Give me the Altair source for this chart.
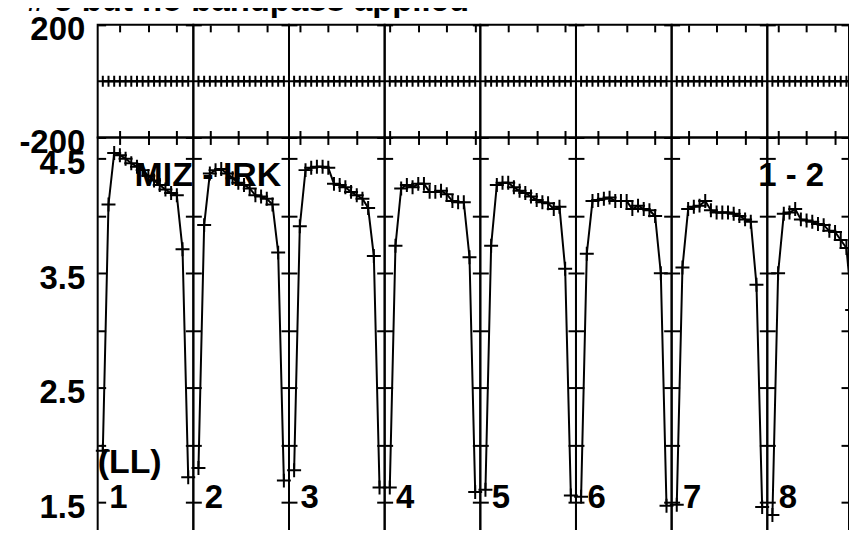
import altair as alt
import numpy as np
import pandas as pd

# ---------------- data ----------------
TITLE = "# 5 but no bandpass applied"
BASELINE = "MIZ - IRK"
BASELINE_NUM = "1 - 2"
POL = "(LL)"
IF_NAMES = ["1", "2", "3", "4", "5", "6", "7", "8"]

# frequency of channel 1 of every IF (MHz, relative)
IF_START_MHZ = [1.0, 9.0, 17.0, 25.0, 33.0, 41.0, 49.0, 57.0]
CHAN_WIDTH_MHZ = 0.5
TICK_STEP_MHZ = 2.5

AMP_IF1 = [1.95, 4.10, 4.55, 4.53, 4.50, 4.46, 4.43, 4.40, 4.35, 4.31, 4.27, 4.23, 4.20, 4.18, 3.71, 1.72]
AMP_IF2 = [1.80, 3.92, 4.37, 4.40, 4.41, 4.37, 4.33, 4.29, 4.27, 4.24, 4.18, 4.17, 4.15, 4.10, 3.68, 1.69]
AMP_IF3 = [1.78, 3.91, 4.40, 4.42, 4.43, 4.43, 4.42, 4.28, 4.27, 4.25, 4.21, 4.18, 4.15, 4.07, 3.65, 1.63]
AMP_IF4 = [1.63, 3.74, 4.24, 4.27, 4.25, 4.28, 4.28, 4.21, 4.21, 4.22, 4.19, 4.13, 4.12, 4.12, 3.64, 1.59]
AMP_IF5 = [1.61, 3.74, 4.27, 4.29, 4.29, 4.25, 4.22, 4.20, 4.17, 4.14, 4.12, 4.11, 4.06, 4.08, 3.54, 1.56]
AMP_IF6 = [1.55, 3.67, 4.13, 4.14, 4.15, 4.16, 4.13, 4.13, 4.13, 4.06, 4.09, 4.06, 4.05, 4.00, 3.50, 1.47]
AMP_IF7 = [1.48, 3.55, 4.06, 4.08, 4.09, 4.13, 4.05, 4.03, 4.03, 4.03, 4.02, 4.00, 3.97, 3.95, 3.40, 1.46]
AMP_IF8 = [1.39, 3.50, 4.02, 4.03, 4.06, 3.97, 3.96, 3.95, 3.93, 3.92, 3.87, 3.86, 3.79, 3.72, 3.18, 1.34]

PHASE_IF1 = [0, 0, 0, 0, 0, 0, 0, 0, 0, 0, 0, 0, 0, 0, 0, 0]
PHASE_IF2 = [0, 0, 0, 0, 0, 0, 0, 0, 0, 0, 0, 0, 0, 0, 0, 0]
PHASE_IF3 = [0, 0, 0, 0, 0, 0, 0, 0, 0, 0, 0, 0, 0, 0, 0, 0]
PHASE_IF4 = [0, 0, 0, 0, 0, 0, 0, 0, 0, 0, 0, 0, 0, 0, 0, 0]
PHASE_IF5 = [0, 0, 0, 0, 0, 0, 0, 0, 0, 0, 0, 0, 0, 0, 0, 0]
PHASE_IF6 = [0, 0, 0, 0, 0, 0, 0, 0, 0, 0, 0, 0, 0, 0, 0, 0]
PHASE_IF7 = [0, 0, 0, 0, 0, 0, 0, 0, 0, 0, 0, 0, 0, 0, 0, 0]
PHASE_IF8 = [0, 0, 0, 0, 0, 0, 0, 0, 0, 0, 0, 0, 0, 0, 0, 0]

AMP_TICKS = [1.5, 2.0, 2.5, 3.0, 3.5, 4.0, 4.5]
PHASE_TICKS = [-200, 200]

AMPS = [AMP_IF1, AMP_IF2, AMP_IF3, AMP_IF4, AMP_IF5, AMP_IF6, AMP_IF7, AMP_IF8]
PHASES = [PHASE_IF1, PHASE_IF2, PHASE_IF3, PHASE_IF4, PHASE_IF5, PHASE_IF6, PHASE_IF7, PHASE_IF8]

# ---------------- styling ----------------
FONT = "Liberation Sans"
FS = 33
PANEL_W = 96
LAST_PANEL_W = 82          # last IF is cut by the right edge of the picture
PHASE_H = 113
AMP_H = 403
EDGE_PAD_MHZ = 0.45
AMP_DOMAIN = [1.18, 4.685]
PHASE_DOMAIN = [-200, 200]
CROSS = "M-1,0H1M0,-1V1"
VIEW = alt.ViewBackground(stroke="black", strokeWidth=2)


def text_layer(txt, x, y, fs=FS):
    return alt.Chart(pd.DataFrame({"t": [txt]})).mark_text(
        font=FONT, fontSize=fs, fontWeight="bold", color="black",
        align="left", baseline="alphabetic"
    ).encode(text="t:N", x=alt.value(x), y=alt.value(y))


def panel(i, kind):
    start = IF_START_MHZ[i]
    n = len(AMPS[i])
    freq = [start + CHAN_WIDTH_MHZ * k for k in range(n)]
    lo = start - EDGE_PAD_MHZ
    hi = start + CHAN_WIDTH_MHZ * (n - 1) + EDGE_PAD_MHZ
    w = PANEL_W
    if i == len(IF_START_MHZ) - 1:
        w = LAST_PANEL_W
        hi = lo + (hi - lo) * LAST_PANEL_W / PANEL_W
    xticks = [float(t) for t in np.arange(np.ceil(lo / TICK_STEP_MHZ) * TICK_STEP_MHZ, hi, TICK_STEP_MHZ)]
    if kind == "phase":
        df = pd.DataFrame({"freq": freq, "val": PHASES[i]})
        ydom, yticks, h, msize = PHASE_DOMAIN, PHASE_TICKS, PHASE_H, 121
        expr = "'' + datum.value"
    else:
        df = pd.DataFrame({"freq": freq, "val": AMPS[i]})
        ydom, yticks, h, msize = AMP_DOMAIN, AMP_TICKS, AMP_H, 196
        expr = "round(datum.value * 2) % 2 == 1 ? format(datum.value, '.1f') : ''"

    xs = alt.Scale(domain=[lo, hi], nice=False, zero=False)
    ys = alt.Scale(domain=ydom, nice=False, zero=False)
    tick_kw = dict(domain=False, grid=False, tickColor="black", tickWidth=2, title=None)
    x_top = alt.Axis(orient="top", values=xticks, labels=False, tickSize=7, offset=-7, **tick_kw)
    x_bot = alt.Axis(orient="bottom", values=xticks, labels=False, tickSize=7, offset=-7, **tick_kw)
    if i == 0:
        y_left = alt.Axis(orient="left", values=yticks, labels=True, labelExpr=expr,
                          labelPadding=13, labelAlign="right", labelBaseline="alphabetic",
                          labelOffset=15, labelFont=FONT, labelFontSize=FS,
                          labelFontWeight="bold", labelColor="black", labelOverlap=False,
                          tickSize=8, offset=-8, **tick_kw)
    else:
        y_left = alt.Axis(orient="left", values=yticks, labels=False, tickSize=8, offset=-8, **tick_kw)
    y_right = alt.Axis(orient="right", values=yticks, labels=False, tickSize=8, offset=-8, **tick_kw)

    clip = i == len(IF_START_MHZ) - 1
    base = alt.Chart(df)
    line = base.mark_line(color="black", strokeWidth=2, clip=clip).encode(
        x=alt.X("freq:Q", scale=xs, axis=x_top),
        y=alt.Y("val:Q", scale=ys, axis=y_left),
    )
    pts = base.mark_point(shape=CROSS, size=msize, color="black", filled=False,
                          strokeWidth=2, opacity=1, clip=clip).encode(
        x=alt.X("freq:Q", scale=xs, axis=x_bot),
        y=alt.Y("val:Q", scale=ys, axis=y_right),
    )
    layers = [line, pts]
    if kind == "phase" and i == 0:
        layers.append(text_layer(TITLE, -71, -13.5))
    if kind == "amp":
        layers.append(text_layer(IF_NAMES[i], 11.5, 372))
        if i == 0:
            layers.append(text_layer(BASELINE, 37, 49, 34))
            layers.append(text_layer(POL, 0, 337, 34))
        if i == 7:
            layers.append(text_layer(BASELINE_NUM, -9, 49))
    return (
        alt.layer(*layers)
        .resolve_axis(x="independent", y="independent")
        .properties(width=w, height=h, view=VIEW)
    )


panels = [panel(i, "phase") for i in range(8)] + [panel(i, "amp") for i in range(8)]

chart = (
    alt.concat(*panels, columns=8, spacing=0, bounds="flush")
    .properties(padding={"top": -25, "left": 9, "right": -2, "bottom": -12})
    .configure_view(stroke="black", strokeWidth=2)
    .configure(background="white")
)

chart.save("out.html", embed_options={"renderer": "svg", "actions": False})
